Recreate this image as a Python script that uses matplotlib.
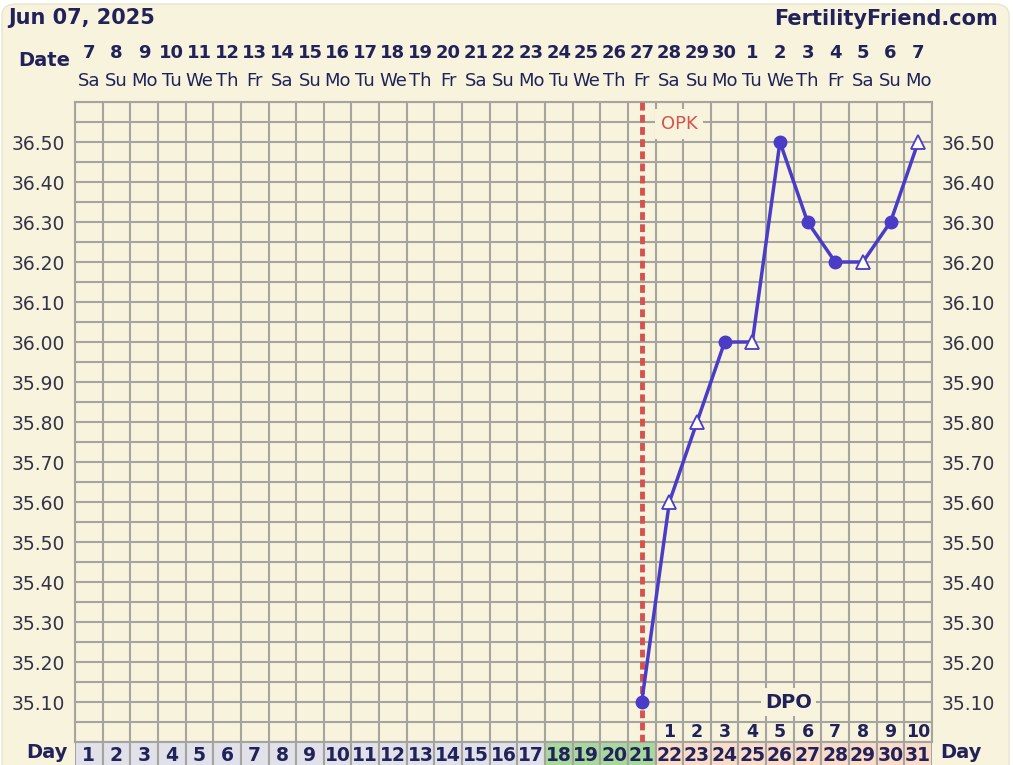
import matplotlib.pyplot as plt
from matplotlib.patches import FancyBboxPatch, Rectangle

# --- datos del gráfico ---
fecha_titulo = "Jun 07, 2025"
sitio = "FertilityFriend.com"
fechas = ["7", "8", "9", "10", "11", "12", "13", "14", "15", "16", "17", "18", "19", "20",
          "21", "22", "23", "24", "25", "26", "27", "28", "29", "30", "1", "2", "3", "4",
          "5", "6", "7"]
dias_semana = ["Sa", "Su", "Mo", "Tu", "We", "Th", "Fr"] * 4 + ["Sa", "Su", "Mo"]
dias_ciclo = list(range(1, 32))
dpo = list(range(1, 11))
dia_opk = 21

dias_temp = [21, 22, 23, 24, 25, 26, 27, 28, 29, 30, 31]
temps = [35.10, 35.60, 35.80, 36.00, 36.00, 36.50, 36.30, 36.20, 36.20, 36.30, 36.50]
abiertos = [False, True, True, False, True, False, False, False, True, False, True]

fertil = [18, 19, 20, 21]

# --- colores ---
FONDO = "#f8f3dc"
REJILLA = "#a6a49e"
AZUL = "#4a3cc6"
ROJO = "#d4534e"
NAVY = "#22225a"
TEXTO = "#33334a"

W, H = 1013, 765
fig = plt.figure(figsize=(W / 100, H / 100), dpi=100)
fig.patch.set_facecolor("white")
fig.patches.append(FancyBboxPatch((2 / W, -0.05), (W - 6) / W, 1.05 - 4 / H,
                                  boxstyle="round,pad=0,rounding_size=0.015",
                                  transform=fig.transFigure, facecolor=FONDO,
                                  edgecolor="#e8e4d0", lw=1, zorder=-10))


def eje_px(l, t, r, b):
    return fig.add_axes([l / W, 1 - b / H, (r - l) / W, (b - t) / H])


def texto_px(x, y, s, **kw):
    fig.text(x / W, 1 - y / H, s, **kw)


L, R, T, B = 75, 932, 102, 742
ax = eje_px(L, T, R, B)
ax.set_facecolor(FONDO)
ax.set_xlim(0.5, 31.5)
ax.set_ylim(35.0, 36.6)

for x in range(0, 32):
    ax.axvline(x + 0.5, color=REJILLA, lw=1.5, zorder=1)
for i in range(33):
    ax.axhline(35.0 + i * 0.05, color=REJILLA, lw=1.5, zorder=1)
for s in ax.spines.values():
    s.set_color(REJILLA)
    s.set_linewidth(1.5)

yt = [round(35.1 + 0.1 * i, 2) for i in range(15)]
ax.set_yticks(yt)
ax.set_yticklabels([f"{v:.2f}" for v in yt])
ax.tick_params(axis="y", length=0, pad=7, labelsize=13.5, labelcolor=TEXTO,
               labelleft=True, labelright=True)
ax.set_xticks([])

# OPK
ax.axvline(dia_opk, color=ROJO, lw=3.5, linestyle=(0, (1.6, 0.9)), zorder=3)
ax.text(dia_opk + 0.7, 36.545, "OPK", color=ROJO, fontsize=13, va="center", ha="left",
        bbox=dict(facecolor=FONDO, edgecolor="none", pad=4), zorder=4)

# temperaturas
ax.plot(dias_temp, temps, color=AZUL, lw=2.5, zorder=5)
for d, t, a in zip(dias_temp, temps, abiertos):
    if a:
        ax.plot(d, t, marker="^", ms=10, mfc="white", mec=AZUL, mew=1.3, zorder=6)
    else:
        ax.plot(d, t, marker="o", ms=9, color=AZUL, zorder=6)

# DPO
ax.text(26.3, 35.10, "DPO", color=NAVY, fontsize=14, fontweight="bold", ha="center",
        va="center", bbox=dict(facecolor=FONDO, edgecolor="none", pad=3), zorder=4)
for i, n in enumerate(dpo):
    ax.text(22 + i, 35.024, str(n), color=NAVY, fontsize=12.5, fontweight="bold",
            ha="center", va="center", zorder=4)

# fila de días
axd = eje_px(L, B, R, 775)
axd.set_xlim(0.5, 31.5)
axd.set_ylim(0, 1)
axd.axis("off")
for d in dias_ciclo:
    if d in fertil:
        c = "#a6d99b"
    elif d > dia_opk:
        c = "#fbdcc8"
    else:
        c = "#e1e1ea"
    axd.add_patch(Rectangle((d - 0.5, 0), 1, 1, facecolor=c, edgecolor=REJILLA, lw=1.5))
    axd.text(d, 0.6, str(d), color=NAVY, fontsize=13.5, fontweight="bold",
             ha="center", va="center")
texto_px(68, 753, "Day", color=NAVY, fontsize=14, fontweight="bold", ha="right", va="center")
texto_px(940, 753, "Day", color=NAVY, fontsize=14, fontweight="bold", ha="left", va="center")

# cabecera
texto_px(8, 18, fecha_titulo, color=NAVY, fontsize=15, fontweight="bold", ha="left", va="center")
texto_px(998, 19, sitio, color=NAVY, fontsize=15, fontweight="bold", ha="right", va="center")
texto_px(70, 60, "Date", color=NAVY, fontsize=14, fontweight="bold", ha="right", va="center")
for i, (f, ds) in enumerate(zip(fechas, dias_semana)):
    x = L + (i + 0.5) * (R - L) / 31
    texto_px(x, 53, f, color=NAVY, fontsize=13, fontweight="bold", ha="center", va="center")
    texto_px(x, 81, ds, color=NAVY, fontsize=13, ha="center", va="center")

fig.savefig("out.png", dpi=100, facecolor=fig.get_facecolor())
